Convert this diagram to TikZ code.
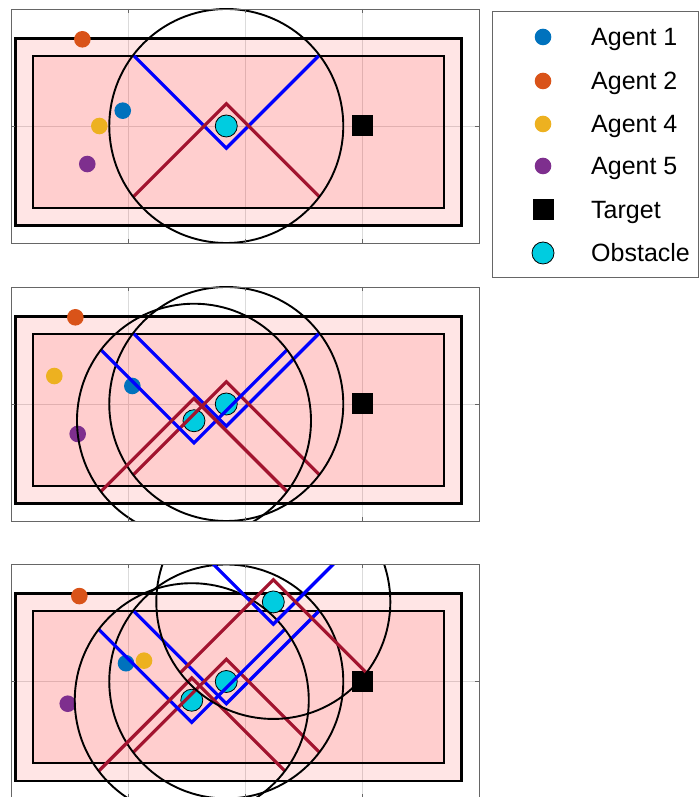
\documentclass[tikz,border=0pt]{standalone}
\usepackage{fontspec}
\setmainfont{Liberation Sans}
\usepackage{tikz}

\definecolor{agentone}{RGB}{0,114,189}
\definecolor{agenttwo}{RGB}{217,83,25}
\definecolor{agentfour}{RGB}{237,177,32}
\definecolor{agentfive}{RGB}{126,47,142}
\definecolor{obstcyan}{RGB}{0,204,224}
\definecolor{lambdared}{RGB}{162,20,47}
\definecolor{vblue}{RGB}{0,0,255}

\tikzset{
  axbox/.style={draw=black!60, line width=0.8pt},
  gridline/.style={draw=black!14, line width=0.7pt},
  zone/.style={fill=red, fill opacity=0.1, draw=black, draw opacity=1, line width=2.8pt},
  obstacle/.style={fill=obstcyan, draw=black, line width=0.8pt},
  vline/.style={draw=vblue, line width=3.2pt},
  lambdaline/.style={draw=lambdared, line width=3.2pt},
  cone/.style={draw=black, line width=1.9pt},
  legtext/.style={anchor=base west, inner sep=0pt, font=\fontsize{25}{30}\selectfont}
}

\begin{document}
\begin{tikzpicture}[x=1pt,y=1pt]
\useasboundingbox (0,0) rectangle (700,797);
\foreach \cy/\obs/\ag in {
  671/{-0.16/0}/{-1.045/0.131/agentone,-1.39/0.741/agenttwo,-1.245/0/agentfour,-1.348/-0.325/agentfive},
  393/{-0.16/0,-0.436/-0.143}/{-0.963/0.154/agentone,-1.45/0.741/agenttwo,-1.63/0.239/agentfour,-1.43/-0.256/agentfive},
  115.5/{-0.16/0,-0.455/-0.16,0.242/0.68}/{-1.017/0.156/agentone,-1.416/0.73/agenttwo,-0.863/0.178/agentfour,-1.515/-0.19/agentfive}}
{
  \begin{scope}[shift={(245,\cy)}, x=117pt, y=117pt]
    \begin{scope}
      \clip (-2,-1) rectangle (2,1);
      \foreach \g in {-1,0,1}
        \draw[gridline] (\g,-1) -- (\g,1);
      \draw[gridline] (-2,0) -- (2,0);
      \path[zone] (-1.96,-0.85) rectangle (1.85,0.75);
      \path[zone, line width=2.2pt] (-1.81,-0.70) rectangle (1.70,0.60);
      \foreach \ax/\ay/\ac in \ag
        \fill[\ac] (\ax,\ay) circle (8.3pt);
      \fill[black] (1,0) +(-10.5pt,-10.5pt) rectangle +(10.5pt,10.5pt);
      \foreach \ox/\oy in \obs
        \path[obstacle] (\ox,\oy) circle (11pt);
      \foreach \ox/\oy in \obs
      {
        \draw[vline] ({\ox-0.796},{\oy+0.606}) -- (\ox,{\oy-0.19}) -- ({\ox+0.796},{\oy+0.606});
        \draw[lambdaline] ({\ox-0.796},{\oy-0.606}) -- (\ox,{\oy+0.19}) -- ({\ox+0.796},{\oy-0.606});
        \draw[cone] (\ox,\oy) circle (1);
      }
    \end{scope}
    \draw[axbox] (-2,-1) rectangle (2,1);
    \foreach \g in {-1,0,1}
    {
      \draw[axbox] (\g,-1) -- ++(0,4pt);
      \draw[axbox] (\g,1) -- ++(0,-4pt);
    }
    \draw[axbox] (-2,0) -- ++(4pt,0);
    \draw[axbox] (2,0) -- ++(-4pt,0);
  \end{scope}
}
\draw[axbox] (492,520) rectangle (698.6,786);
\foreach \ly/\lc/\lt [count=\i] in {760/agentone/Agent 1, 716/agenttwo/Agent 2, 673/agentfour/Agent 4, 631/agentfive/Agent 5}
{
  \fill[\lc] (543,\ly) circle (8.3pt);
  \node[legtext] (leg\i) at (591,\ly-8.5) {\lt};
}
\fill[black] (532.5,576.5) rectangle (553.5,597.5);
\node[legtext] (legtarget) at (591,578.5) {Target};
\path[obstacle] (543,544) circle (11pt);
\node[legtext] (legobstacle) at (591,535.5) {Obstacle};
\end{tikzpicture}
\end{document}
